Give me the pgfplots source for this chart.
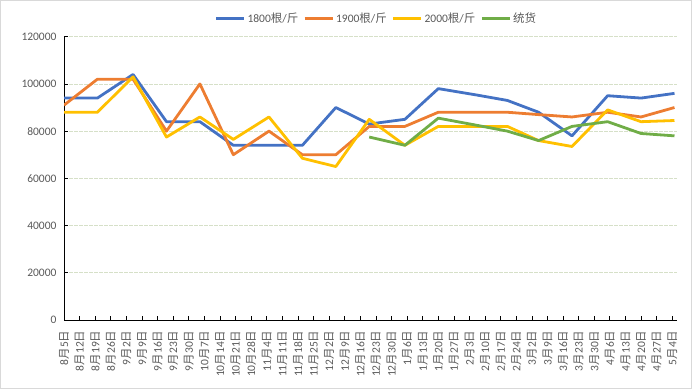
\documentclass[border=0pt]{standalone}
\usepackage{fontspec}
\setmainfont{Carlito}
\newfontfamily\cjk{Noto Sans CJK SC}
\usepackage{pgfplots}
\pgfplotsset{compat=1.18}
\definecolor{cblue}{HTML}{4472C4}
\definecolor{corange}{HTML}{ED7D31}
\definecolor{cyellow}{HTML}{FFC000}
\definecolor{cgreen}{HTML}{70AD47}
\definecolor{tgray}{HTML}{595959}
\definecolor{gridc}{RGB}{214,224,200}
\definecolor{borderc}{HTML}{D9D9D9}
\newcommand\Mo{{\cjk 月}}
\newcommand\Dy{{\cjk 日}}
\newcommand\lblfont{\fontsize{11.5bp}{13bp}\selectfont\color{tgray}}
\begin{document}
\begin{tikzpicture}
\useasboundingbox (0,0) rectangle (692bp,389bp);
\draw[borderc, line width=1bp] (0.5bp,0.5bp) rectangle (691.5bp,388.5bp);
\begin{axis}[
  at={(64bp,69bp)}, anchor=south west,
  scale only axis, width=612.7bp, height=283.3bp,
  xmin=0, xmax=275, ymin=0, ymax=120000,
  ytick={0,20000,...,120000},
  scaled y ticks=false,
  xtick={0,7,...,273},
  xticklabels={8\Mo5\Dy,8\Mo12\Dy,8\Mo19\Dy,8\Mo26\Dy,9\Mo2\Dy,9\Mo9\Dy,9\Mo16\Dy,9\Mo23\Dy,9\Mo30\Dy,10\Mo7\Dy,10\Mo14\Dy,10\Mo21\Dy,10\Mo28\Dy,11\Mo4\Dy,11\Mo11\Dy,11\Mo18\Dy,11\Mo25\Dy,12\Mo2\Dy,12\Mo9\Dy,12\Mo16\Dy,12\Mo23\Dy,12\Mo30\Dy,1\Mo6\Dy,1\Mo13\Dy,1\Mo20\Dy,1\Mo27\Dy,2\Mo3\Dy,2\Mo10\Dy,2\Mo17\Dy,2\Mo24\Dy,3\Mo2\Dy,3\Mo9\Dy,3\Mo16\Dy,3\Mo23\Dy,3\Mo30\Dy,4\Mo6\Dy,4\Mo13\Dy,4\Mo20\Dy,4\Mo27\Dy,5\Mo4\Dy},
  axis x line*=bottom, axis y line*=left,
  axis line style={black, line width=0.75bp, -},
  tick align=inside, major tick length=4bp,
  tick style={black, line width=0.75bp},
  ymajorgrids, major grid style={gridc, dash pattern=on 3.5bp off 1.5bp, line width=0.75bp},
  x tick label style={rotate=90, anchor=east, font=\lblfont},
  xticklabel shift=7bp,
  y tick label style={font=\lblfont, xshift=-4bp, /pgf/number format/fixed, /pgf/number format/1000 sep={}, /pgf/number format/assume math mode=true},
  legend columns=4,
  legend style={draw=none, fill=none, at={(0.51,1)}, anchor=center, yshift=18.5bp,
    font=\lblfont, /tikz/every even column/.append style={column sep=3bp}},
  legend image code/.code={\draw[#1] (0bp,0bp) -- (28bp,0bp);},
  every axis plot/.append style={line width=2.8bp, line join=round},
]
\addplot[cblue] coordinates {(0,94000)(15,94000)(31,104000)(46,84000)(61,84000)(76,74000)(92,74000)(107,74000)(122,90000)(137,83000)(153,85000)(168,98000)(184,95500)(199,93000)(213,88000)(228,78000)(244,95000)(259,94000)(274,96000)};
\addlegendentry{1800{\cjk 根}/{\cjk 斤}}
\addplot[corange] coordinates {(0,91000)(15,102000)(31,102000)(46,80000)(61,100000)(76,70000)(92,80000)(107,70000)(122,70000)(137,82000)(153,82000)(168,88000)(184,88000)(199,88000)(213,87000)(228,86000)(244,88000)(259,86000)(274,90000)};
\addlegendentry{1900{\cjk 根}/{\cjk 斤}}
\addplot[cyellow] coordinates {(0,88000)(15,88000)(31,103000)(46,77500)(61,86000)(76,76500)(92,86000)(107,68500)(122,65000)(137,85000)(153,74000)(168,82000)(184,82000)(199,82000)(213,76000)(228,73500)(244,89000)(259,84000)(274,84500)};
\addlegendentry{2000{\cjk 根}/{\cjk 斤}}
\addplot[cgreen] coordinates {(137,77500)(153,74000)(168,85500)(184,82700)(199,80000)(213,76000)(228,82000)(244,84000)(259,79000)(274,78000)};
\addlegendentry{{\cjk 统货}}
\end{axis}
\end{tikzpicture}
\end{document}
